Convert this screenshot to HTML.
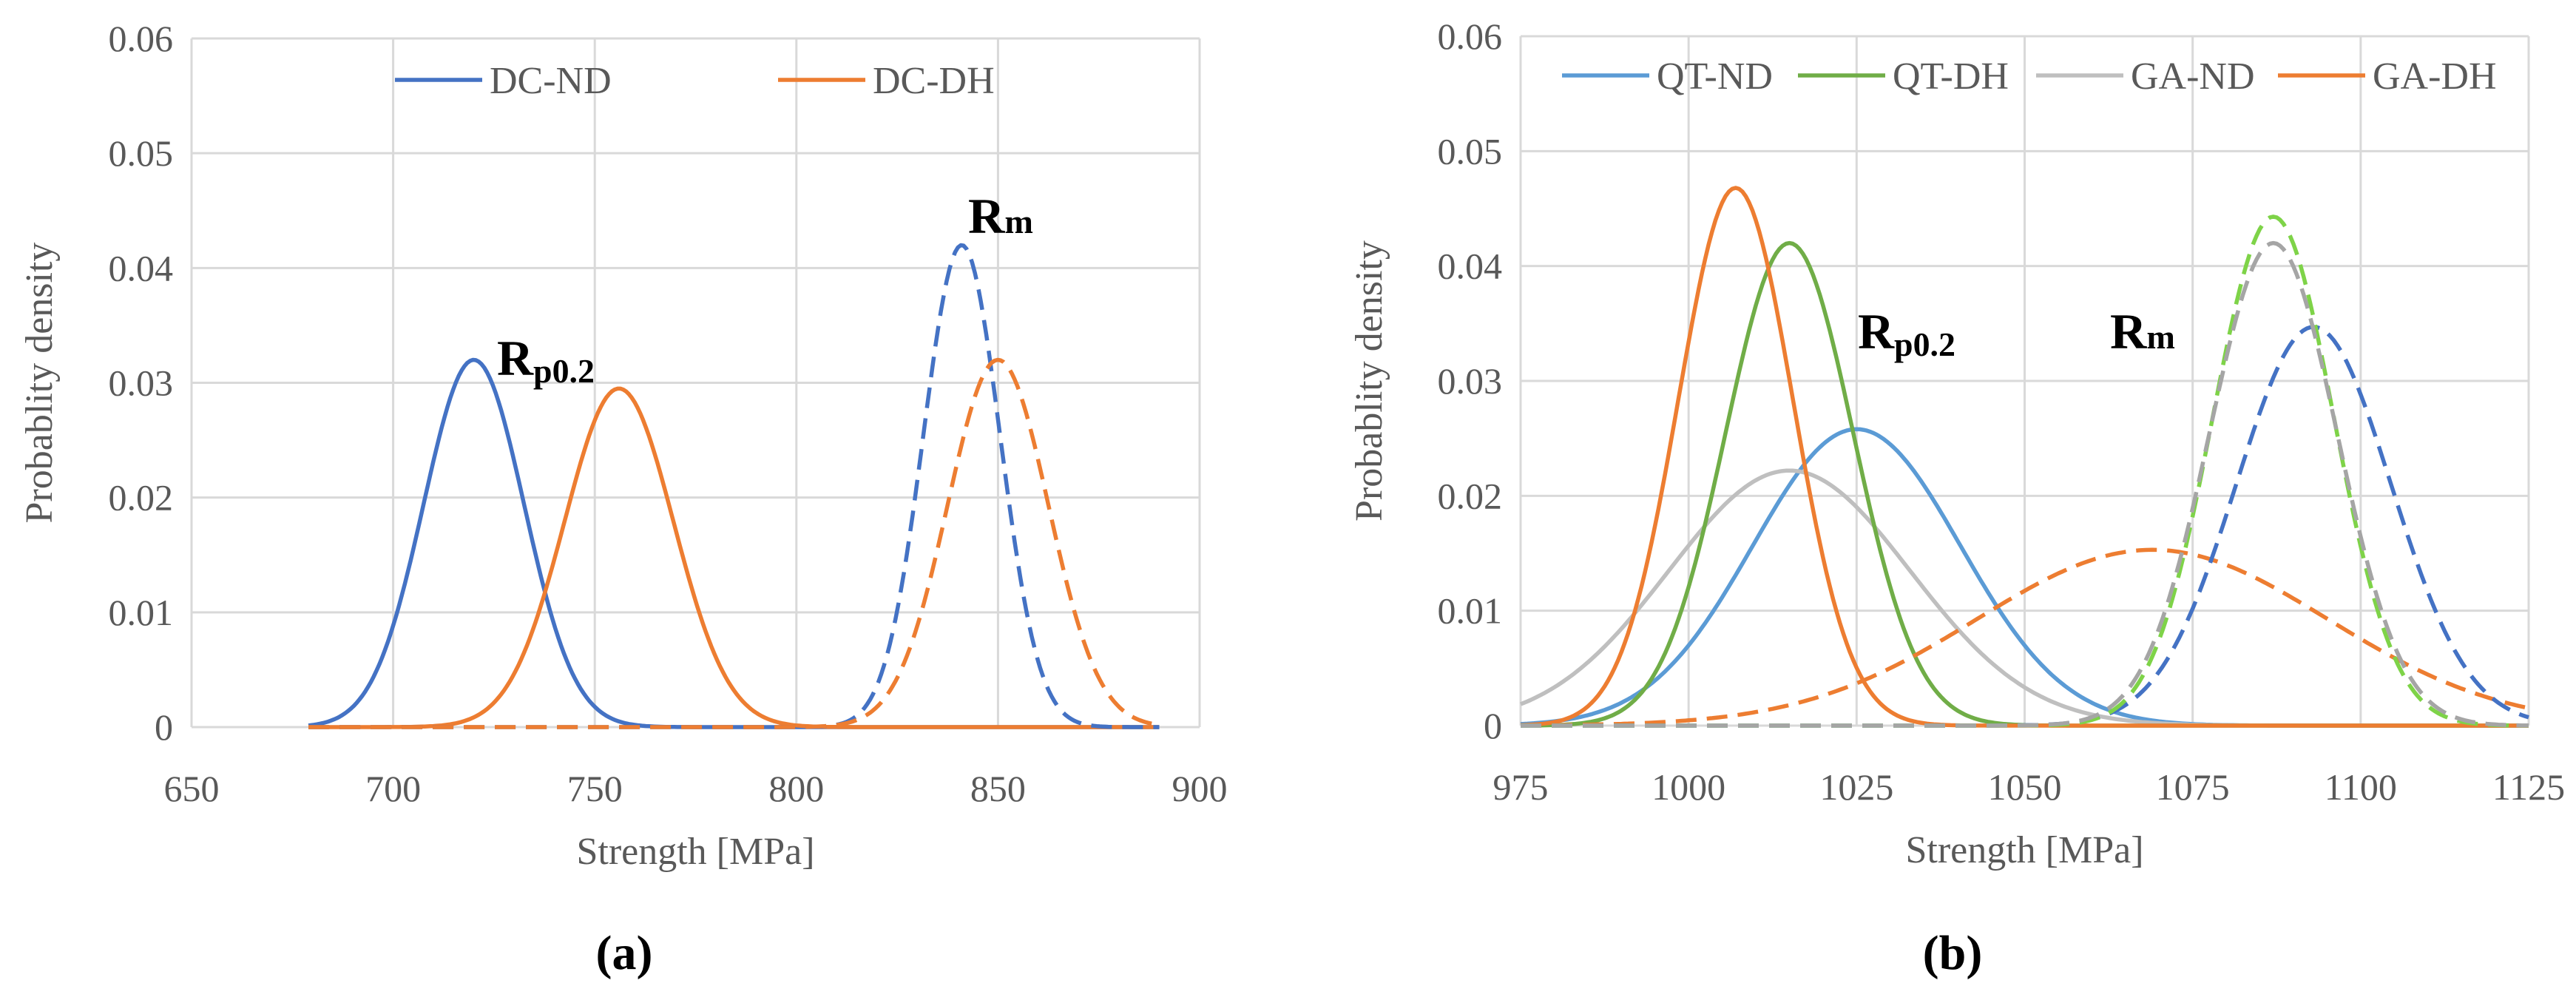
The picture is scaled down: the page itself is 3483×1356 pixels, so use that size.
<!DOCTYPE html>
<html><head><meta charset="utf-8"><style>
html,body{margin:0;padding:0;background:#fff;}
svg{display:block;font-family:"Liberation Serif",serif;}
</style></head><body>
<svg id="chart" width="3483" height="1356" viewBox="0 0 3483 1356" xmlns="http://www.w3.org/2000/svg"></svg>
<script>
// Panel (a) data
const aXTicks = [650,700,750,800,850,900];
const yTicks = [0,0.01,0.02,0.03,0.04,0.05,0.06];
const yTickLabels = ["0","0.01","0.02","0.03","0.04","0.05","0.06"];
const aNames = ["DC-ND Rp0.2","DC-DH Rp0.2","DC-ND Rm","DC-DH Rm"];
const aMeans = [720,756,841,850];
const aPeaks = [0.032,0.0295,0.042,0.032];
const aDashed = [false,false,true,true];
const aColors = ["#4472C4","#ED7D31","#4472C4","#ED7D31"];
// Panel (b) data
const bXTicks = [975,1000,1025,1050,1075,1100,1125];
const bNames = ["QT-ND Rp0.2","GA-ND Rp0.2","QT-DH Rp0.2","GA-DH Rp0.2","GA-DH Rm","QT-ND Rm","QT-DH Rm","GA-ND Rm"];
const bMeans = [1025,1015,1015,1007,1069,1093,1087,1087];
const bPeaks = [0.0258,0.0222,0.042,0.0468,0.0153,0.0347,0.0443,0.042];
const bDashed = [false,false,false,false,true,true,true,true];
const bColors = ["#5B9BD5","#BFBFBF","#70AD47","#ED7D31","#ED7D31","#4472C4","#7ED348","#A5A5A5"];

const NS="http://www.w3.org/2000/svg";
const svg=document.getElementById('chart');
function mk(tag,attrs,parent){const e=document.createElementNS(NS,tag);for(const k in attrs)e.setAttribute(k,attrs[k]);(parent||svg).appendChild(e);return e;}

function panel(cfg){
  const g=mk('g',{});
  
  
  const {x0,x1,y0,y1,xmin,xmax}=cfg;
  const sx=v=>x0+(v-xmin)/(xmax-xmin)*(x1-x0);
  const sy=v=>y0-(v/0.06)*(y0-y1);
  yTicks.forEach((t,i)=>{
    const l=mk('line',{x1:x0,x2:x1,y1:sy(t),y2:sy(t),stroke:'#D9D9D9','stroke-width':3},g);
    
    
    const tx=mk('text',{x:x0-25,y:sy(t)+17,'text-anchor':'end','font-size':50,fill:'#595959'},g);
    tx.textContent=yTickLabels[i];
    
    
  });
  cfg.xTicks.forEach(t=>{
    const l=mk('line',{x1:sx(t),x2:sx(t),y1:y1,y2:y0,stroke:'#D9D9D9','stroke-width':3},g);
    
    
    const tx=mk('text',{x:sx(t),y:y0+100,'text-anchor':'middle','font-size':50,fill:'#595959'},g);
    tx.textContent=String(t);
    
    
  });
  cfg.means.forEach((m,i)=>{
    const pk=cfg.peaks[i];
    const sd=1/(pk*Math.sqrt(2*Math.PI));
    let d='';
    const N=300;
    for(let k=0;k<=N;k++){
      const v=cfg.cmin+(cfg.cmax-cfg.cmin)*k/N;
      const y=pk*Math.exp(-0.5*Math.pow((v-m)/sd,2));
      d+=(k?'L':'M')+sx(v).toFixed(1)+','+sy(y).toFixed(1);
    }
    const p=mk('path',{d:d,fill:'none',stroke:cfg.colors[i],'stroke-width':5.5,'stroke-linejoin':'round'},g);
    if(cfg.dashed[i])p.setAttribute('stroke-dasharray','28 14');
    
    
  });
  const xt=mk('text',{x:(x0+x1)/2,y:y0+185,'text-anchor':'middle','font-size':52,fill:'#595959'},g);
  xt.textContent='Strength [MPa]';
  
  
  const yt=mk('text',{x:0,y:0,'text-anchor':'middle','font-size':52,fill:'#595959',transform:`translate(${cfg.ytx},${(y0+y1)/2}) rotate(-90)`},g);
  yt.textContent='Probablity density';
  
  
  cfg.legend.forEach(L=>{
    const lg=mk('g',{},g);
    
    
    mk('line',{x1:L.x,x2:L.x+118,y1:L.y,y2:L.y,stroke:L.c,'stroke-width':5.5},lg);
    const t=mk('text',{x:L.x+128,y:L.y+18,'font-size':52,fill:'#595959'},lg);
    t.textContent=L.t;
  });
  cfg.ann.forEach(A=>{
    const t=mk('text',{x:A.x,y:A.y,'font-size':68,'font-weight':'bold',fill:'#000',textLength:A.w,lengthAdjust:'spacingAndGlyphs'},g);
    
    
    const r=mk('tspan',{},t);r.textContent='R';
    const s=mk('tspan',{'font-size':46,dy:A.dy},t);s.textContent=A.sub;
  });
  const lab=mk('text',{x:cfg.labx,y:1310,'text-anchor':'middle','font-size':66,'font-weight':'bold',fill:'#000'},g);
  lab.textContent=cfg.label;
  
  
}

panel({id:'panel-a',x0:259,x1:1622,y0:983,y1:52,xmin:650,xmax:900,xTicks:aXTicks,
  means:aMeans,peaks:aPeaks,dashed:aDashed,colors:aColors,names:aNames,cmin:679,cmax:890,ytx:70,
  legend:[{x:534,y:108,c:'#4472C4',t:'DC-ND'},{x:1052,y:108,c:'#ED7D31',t:'DC-DH'}],
  ann:[{x:672,y:507,sub:'p0.2',dy:10,w:132,name:'rp02-annotation'},{x:1309,y:315,sub:'m',dy:0,w:88,name:'rm-annotation'}],label:'(a)',labx:844});
panel({id:'panel-b',x0:2056,x1:3419,y0:981,y1:49,xmin:975,xmax:1125,xTicks:bXTicks,
  means:bMeans,peaks:bPeaks,dashed:bDashed,colors:bColors,names:bNames,cmin:975,cmax:1125,ytx:1868,
  legend:[{x:2112,y:102,c:'#5B9BD5',t:'QT-ND'},{x:2431,y:102,c:'#70AD47',t:'QT-DH'},{x:2753,y:102,c:'#BFBFBF',t:'GA-ND'},{x:3080,y:102,c:'#ED7D31',t:'GA-DH'}],
  ann:[{x:2512,y:471,sub:'p0.2',dy:10,w:132,name:'rp02-annotation'},{x:2853,y:471,sub:'m',dy:0,w:88,name:'rm-annotation'}],label:'(b)',labx:2640});
</script>
</body></html>
